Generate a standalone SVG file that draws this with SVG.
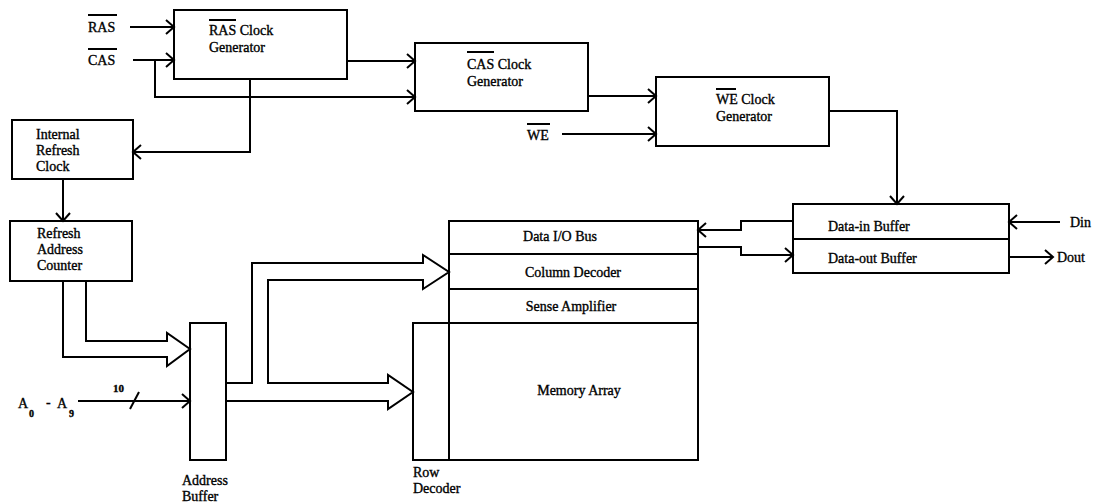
<svg xmlns="http://www.w3.org/2000/svg" width="1097" height="502" viewBox="0 0 1097 502">
  <defs>
    <style>
      .box { fill: none; stroke: #000; stroke-width: 2; }
      .wire { fill: none; stroke: #000; stroke-width: 2; }
      .arr { marker-end: url(#chev); }
      text { font-family: "Liberation Serif", "Times New Roman", serif; font-size: 14px; fill: #000; stroke: #000; stroke-width: 0.35; }
      .c { text-anchor: middle; }
      .ov { stroke: #000; stroke-width: 2; }
      .small { font-size: 11px; font-weight: bold; }
      .sub { font-size: 10px; font-weight: bold; }
    </style>
    <marker id="chev" markerUnits="userSpaceOnUse" markerWidth="14" markerHeight="16" refX="9" refY="7" orient="auto" overflow="visible">
      <path d="M1,0 L9,7 L1,14" fill="none" stroke="#000" stroke-width="2"/>
    </marker>
  </defs>

  <rect width="1097" height="502" fill="#fff"/>

  <!-- external signal labels -->
  <g id="sig-ras">
    <text x="88" y="32">RAS</text>
    <line class="ov" x1="88" y1="15" x2="117" y2="15"/>
  </g>
  <g id="sig-cas">
    <text x="88" y="65">CAS</text>
    <line class="ov" x1="88" y1="49" x2="117" y2="49"/>
  </g>
  <g id="sig-we">
    <text x="527" y="140">WE</text>
    <line class="ov" x1="527" y1="124" x2="550" y2="124"/>
  </g>
  <g id="sig-din"><text x="1070" y="227">Din</text></g>
  <g id="sig-dout"><text x="1057" y="262">Dout</text></g>
  <g id="sig-addr">
    <text x="18" y="408">A</text>
    <text x="29" y="417" class="sub">0</text>
    <text x="46" y="407">-</text>
    <text x="57" y="408">A</text>
    <text x="69" y="417" class="sub">9</text>
    <text x="113" y="392" class="small">10</text>
  </g>

  <!-- clock generators -->
  <g id="ras-clock">
    <rect class="box" x="174" y="10" width="173" height="69"/>
    <text x="209" y="35">RAS Clock</text>
    <line class="ov" x1="209" y1="20" x2="236" y2="20"/>
    <text x="209" y="52">Generator</text>
  </g>
  <g id="cas-clock">
    <rect class="box" x="415" y="43" width="173" height="68"/>
    <text x="467" y="69">CAS Clock</text>
    <line class="ov" x1="467" y1="52" x2="494" y2="52"/>
    <text x="467" y="86">Generator</text>
  </g>
  <g id="we-clock">
    <rect class="box" x="656" y="77" width="173" height="69"/>
    <text x="716" y="104">WE Clock</text>
    <line class="ov" x1="716" y1="89" x2="736" y2="89"/>
    <text x="716" y="121">Generator</text>
  </g>

  <!-- refresh logic -->
  <g id="refresh-clock">
    <rect class="box" x="12" y="120" width="121" height="59"/>
    <text x="36" y="139">Internal</text>
    <text x="36" y="155">Refresh</text>
    <text x="36" y="171">Clock</text>
  </g>
  <g id="refresh-counter">
    <rect class="box" x="10" y="221" width="122" height="60"/>
    <text x="37" y="238">Refresh</text>
    <text x="37" y="254">Address</text>
    <text x="37" y="270">Counter</text>
  </g>

  <!-- address path -->
  <g id="address-buffer">
    <rect class="box" x="190" y="323" width="36" height="137"/>
    <text x="182" y="485">Address</text>
    <text x="182" y="501">Buffer</text>
  </g>
  <g id="row-decoder">
    <rect class="box" x="413" y="323" width="36" height="137"/>
    <text x="413" y="477">Row</text>
    <text x="413" y="493">Decoder</text>
  </g>

  <!-- memory core -->
  <g id="memory">
    <rect class="box" x="449" y="221" width="249" height="239"/>
    <line class="box" x1="449" y1="254" x2="698" y2="254"/>
    <line class="box" x1="449" y1="289" x2="698" y2="289"/>
    <line class="box" x1="449" y1="323" x2="698" y2="323"/>
    <text class="c" x="560" y="241">Data I/O Bus</text>
    <text class="c" x="573" y="277">Column Decoder</text>
    <text class="c" x="571" y="311">Sense Amplifier</text>
    <text class="c" x="579" y="395">Memory Array</text>
  </g>

  <!-- data buffers -->
  <g id="data-buffer">
    <rect class="box" x="793" y="204" width="216" height="69"/>
    <line class="box" x1="793" y1="239" x2="1009" y2="239"/>
    <text x="828" y="231">Data-in Buffer</text>
    <text x="828" y="263">Data-out Buffer</text>
  </g>

  <!-- connectors -->
  <g id="connectors">
    <path class="wire arr" d="M130,27 H174"/>
    <path class="wire arr" d="M133,60 H174"/>
    <path class="wire arr" d="M155,60 V97 H415"/>
    <path class="wire arr" d="M347,61 H415"/>
    <path class="wire arr" d="M250,79 V152 H133"/>
    <path class="wire arr" d="M588,96 H656"/>
    <path class="wire arr" d="M562,134 H656"/>
    <path class="wire arr" d="M829,111 H897 V204"/>
    <path class="wire arr" d="M63,179 V221"/>
    <path class="wire arr" d="M1060,222 H1009"/>
    <path class="wire arr" d="M1009,257 H1053"/>
    <path class="wire arr" d="M793,221 H741 V230 H698"/>
    <path class="wire arr" d="M698,247 H741 V255 H793"/>
    <path class="wire arr" d="M78,401 H190"/>
    <line class="wire" x1="130" y1="409" x2="139" y2="392"/>
    <!-- bus arrows -->
    <path class="wire" d="M63,281 V357 H167 V366 L190,349 L167,333 V341 H86 V281"/>
    <path class="wire" d="M226,401 H388 V409 L413,392 L388,375 V383 H268 V280 H423 V289 L449,272 L423,255 V263 H252 V383 H226"/>
  </g>
</svg>
